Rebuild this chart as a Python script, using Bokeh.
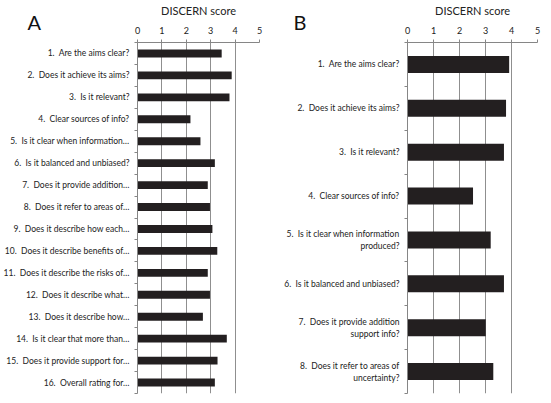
from bokeh.plotting import figure
from bokeh.models import FixedTicker, Label, Range1d
from bokeh.layouts import row
from bokeh.embed import file_html
from bokeh.resources import INLINE

S = "\u00a0 "  # two visible spaces after the item number

labels_a = [
    "1." + S + "Are the aims clear?",
    "2." + S + "Does it achieve its aims?",
    "3." + S + "Is it relevant?",
    "4." + S + "Clear sources of info?",
    "5." + S + "Is it clear when information…",
    "6." + S + "Is it balanced and unbiased?",
    "7." + S + "Does it provide addition…",
    "8." + S + "Does it refer to areas of…",
    "9." + S + "Does it describe how each…",
    "10." + S + "Does it describe benefits of…",
    "11." + S + "Does it describe the risks of…",
    "12." + S + "Does it describe what…",
    "13." + S + "Does it describe how…",
    "14." + S + "Is it clear that more than…",
    "15." + S + "Does it provide support for…",
    "16." + S + "Overall rating for…",
]
scores_a = [3.45, 3.86, 3.77, 2.17, 2.58, 3.17, 2.88, 2.97,
            3.07, 3.27, 2.88, 2.97, 2.68, 3.66, 3.28, 3.17]

labels_b = [
    "1." + S + "Are the aims clear?",
    "2." + S + "Does it achieve its aims?",
    "3." + S + "Is it relevant?",
    "4." + S + "Clear sources of info?",
    "5." + S + "Is it clear when information\nproduced?",
    "6." + S + "Is it balanced and unbiased?",
    "7." + S + "Does it provide addition\nsupport info?",
    "8." + S + "Does it refer to areas of\nuncertainty?",
]
scores_b = [3.91, 3.79, 3.71, 2.52, 3.20, 3.71, 3.01, 3.30]

score_ticks = [0, 1, 2, 3, 4, 5]
axis_title = "DISCERN score"
FONT = "Lato"
HEIGHT = 403
AXIS_GREY = "#868686"


def make_panel(letter, labels, scores, bar_h, width, b_left, b_right, lx, ly):
    n = len(labels)
    pos = list(range(1, n + 1))
    bounds = [i + 0.5 for i in range(n + 1)]
    p = figure(width=width, height=HEIGHT,
               x_range=Range1d(score_ticks[0], score_ticks[-1]),
               y_range=Range1d(n + 0.5, 0.5),
               x_axis_location="above",
               output_backend="svg", toolbar_location=None,
               min_border_left=b_left, min_border_right=b_right,
               min_border_top=41, min_border_bottom=10)
    p.outline_line_color = None
    p.background_fill_color = "white"

    p.hbar(y=pos, left=0, right=scores, height=bar_h,
           fill_color="#231f20", line_color=None)

    xa = p.xaxis[0]
    xa.ticker = FixedTicker(ticks=score_ticks)
    xa.axis_line_color = AXIS_GREY
    xa.major_tick_line_color = AXIS_GREY
    xa.minor_tick_line_color = None
    xa.major_tick_out = 3
    xa.major_tick_in = 0
    xa.major_label_standoff = 6
    xa.major_label_text_font = FONT
    xa.major_label_text_font_size = "9px"
    xa.major_label_text_color = "#222222"
    xa.axis_label = axis_title
    xa.axis_label_text_font = FONT
    xa.axis_label_text_font_size = "11px"
    xa.axis_label_text_font_style = "normal"
    xa.axis_label_text_color = "#222222"
    xa.axis_label_standoff = 7

    ya = p.yaxis[0]
    ya.ticker = FixedTicker(ticks=pos, minor_ticks=bounds)
    ya.major_label_overrides = {k: v for k, v in zip(pos, labels)}
    ya.major_tick_line_color = None
    ya.major_tick_out = 0
    ya.major_tick_in = 0
    ya.minor_tick_line_color = AXIS_GREY
    ya.minor_tick_out = 3
    ya.minor_tick_in = 0
    ya.axis_line_color = AXIS_GREY
    ya.major_label_standoff = 5
    ya.major_label_text_font = FONT
    ya.major_label_text_font_size = "8.5px"
    ya.major_label_text_color = "#222222"

    p.xgrid.ticker = FixedTicker(ticks=score_ticks[1:])
    p.xgrid.grid_line_color = "#8f8f8f"
    p.ygrid.visible = False

    p.add_layout(Label(x=lx, y=ly, x_units="canvas", y_units="canvas",
                       text=letter, text_font=FONT, text_font_size="20px",
                       text_color="#111111", text_align="left",
                       text_baseline="alphabetic"), "right")
    return p


pa = make_panel("A", labels_a, scores_a, 0.36, 273, 133, 13, 27, 21)
pb = make_panel("B", labels_b, scores_b, 0.39, 278, 134, 14, 20, 21)

layout = row(pa, pb)
open("out.html", "w").write(file_html(layout, INLINE))
